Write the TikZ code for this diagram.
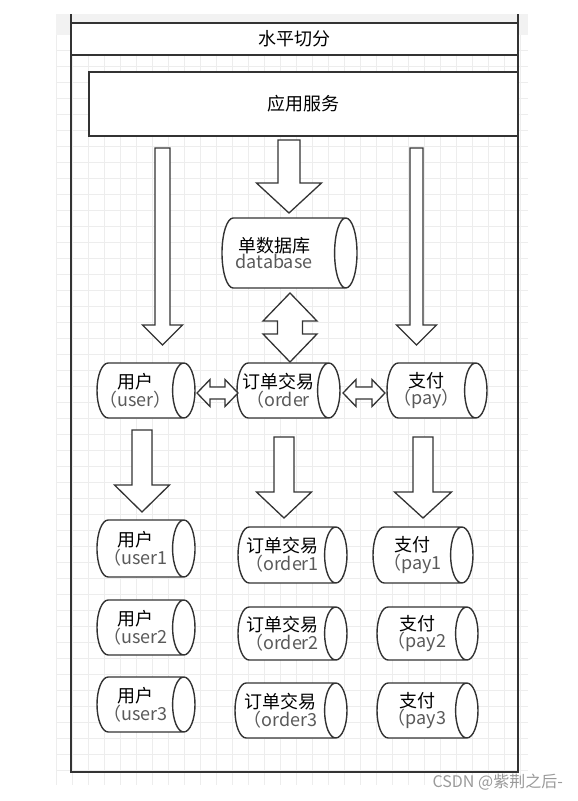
\documentclass[tikz,border=0pt]{standalone}
\usepackage{fontspec}
\setmainfont{Noto Sans CJK SC}
\usetikzlibrary{shapes.geometric}

\definecolor{linegray}{HTML}{333333}
\definecolor{gridgray}{HTML}{EDEDED}
\definecolor{bandgray}{HTML}{F2F2F2}
\definecolor{subgray}{HTML}{5A5A5A}
\definecolor{markgray}{HTML}{9A9A9A}

% block arrow pointing down: x, top, tip, shaft half width, head half width, head length
\newcommand{\downblk}[6]{%
  \draw[blk] (#1-#4,#2) -- (#1+#4,#2) -- (#1+#4,#3-#6) -- (#1+#5,#3-#6) -- (#1,#3)
    -- (#1-#5,#3-#6) -- (#1-#4,#3-#6) -- cycle;}
% vertical double block arrow: x, top tip, bottom tip, shaft, head, head length
\newcommand{\vdblk}[6]{%
  \draw[blk] (#1,#2) -- (#1+#5,#2+#6) -- (#1+#4,#2+#6) -- (#1+#4,#3-#6) -- (#1+#5,#3-#6)
    -- (#1,#3) -- (#1-#5,#3-#6) -- (#1-#4,#3-#6) -- (#1-#4,#2+#6) -- (#1-#5,#2+#6) -- cycle;}
% horizontal double block arrow: y, left tip, right tip, shaft, head, head length
\newcommand{\hdblk}[6]{%
  \draw[blk] (#2,#1) -- (#2+#6,#1-#5) -- (#2+#6,#1-#4) -- (#3-#6,#1-#4) -- (#3-#6,#1-#5)
    -- (#3,#1) -- (#3-#6,#1+#5) -- (#3-#6,#1+#4) -- (#2+#6,#1+#4) -- (#2+#6,#1+#5) -- cycle;}

% cylinders: length is minimum height, diameter is minimum width
% (text height/depth only fix the size of the end ellipse)
\tikzset{
  frameline/.style = {draw=linegray, line width=1.8pt},
  blk/.style = {draw=linegray, line width=1.3pt, fill=white, line join=miter},
  cyl/.style = {cylinder, draw=linegray, line width=1.4pt, fill=white, aspect=0.8,
    inner sep=0pt, text height=14pt, text depth=14pt, anchor=shape center},
  cyltext/.style = {align=center, inner sep=0pt, xshift=-4.5pt,
    font=\fontsize{18}{15}\selectfont},
}

\begin{document}
\begin{tikzpicture}[x=1pt, y=-1pt]
\useasboundingbox (0,0) rectangle (578,801);

% background grid
\fill[bandgray] (56,14) rectangle (528,35);
\foreach \gx in {56,72,...,520}
  \draw[gridgray, line width=0.6pt] (\gx,35) -- (\gx,785);
\foreach \gy in {50,66,...,784}
  \draw[gridgray, line width=0.6pt] (56,\gy) -- (528,\gy);

% frame
\draw[frameline] (71,14) -- (71,772) -- (518,772) -- (518,14);
\node[frameline, fill=white, minimum width=447pt, minimum height=32pt, inner sep=0pt,
  font=\fontsize{18}{18}\selectfont] (title) at (294.5,39) {水平切分};
\node[frameline, fill=white, minimum width=429pt, minimum height=64pt, inner sep=0pt,
  font=\fontsize{18}{18}\selectfont] (app) at (303.5,104) {应用服务};

% databases
\node[cyl, minimum height=135pt, minimum width=70pt,
  label={[cyltext, xshift=-5pt]center:{单数据库\\{\color{subgray}database}}}] (db) at (289.5,253) {};
\node[cyl, minimum height=98pt, minimum width=55pt,
  label={[cyltext]center:{用户\\{\color{subgray}（user）}}}] (user) at (146,390.5) {};
\node[cyl, minimum height=103pt, minimum width=55pt,
  label={[cyltext]center:{订单交易\\{\color{subgray}（order}}}] (order) at (288.5,390.5) {};
\node[cyl, minimum height=100pt, minimum width=55pt,
  label={[cyltext]center:{支付\\{\color{subgray}（pay）}}}] (pay) at (437,390.5) {};

\node[cyl, minimum height=98pt, minimum width=57pt,
  label={[cyltext]center:{用户\\{\color{subgray}（user1}}}] (user1) at (146,548.5) {};
\node[cyl, minimum height=98pt, minimum width=55pt,
  label={[cyltext]center:{用户\\{\color{subgray}（user2}}}] (user2) at (146,627.5) {};
\node[cyl, minimum height=98pt, minimum width=55pt,
  label={[cyltext]center:{用户\\{\color{subgray}（user3}}}] (user3) at (146,704.5) {};

\node[cyl, minimum height=109pt, minimum width=56pt,
  label={[cyltext]center:{订单交易\\{\color{subgray}（order1}}}] (order1) at (292.5,555) {};
\node[cyl, minimum height=109pt, minimum width=53pt,
  label={[cyltext]center:{订单交易\\{\color{subgray}（order2}}}] (order2) at (292.5,633.5) {};
\node[cyl, minimum height=112pt, minimum width=55pt,
  label={[cyltext]center:{订单交易\\{\color{subgray}（order3}}}] (order3) at (291,710.5) {};

\node[cyl, minimum height=100pt, minimum width=56pt,
  label={[cyltext]center:{支付\\{\color{subgray}（pay1}}}] (pay1) at (423,555) {};
\node[cyl, minimum height=101pt, minimum width=53pt,
  label={[cyltext]center:{支付\\{\color{subgray}（pay2}}}] (pay2) at (427.5,633.5) {};
\node[cyl, minimum height=101pt, minimum width=55pt,
  label={[cyltext]center:{支付\\{\color{subgray}（pay3}}}] (pay3) at (427.5,710.5) {};

% block arrows
\downblk{162.5}{148}{345}{7.5}{20}{20}
\downblk{289}{140}{213}{11}{32.5}{30}
\downblk{416.5}{148}{345}{6.5}{20}{20}
\vdblk{290}{293}{362}{12.5}{27}{28}
\hdblk{393}{197}{238}{6}{13.5}{13}
\hdblk{393}{343}{385}{6}{13.5}{13}
\downblk{142}{430}{512}{10}{27.5}{27}
\downblk{284}{437}{518}{10}{27.5}{26}
\downblk{423}{437}{518}{10}{28.5}{26}

\node[text=markgray, anchor=east, inner sep=0pt, font=\fontsize{16}{16}\selectfont]
  (mark) at (563,782) {CSDN @紫荆之后-};
\end{tikzpicture}
\end{document}
